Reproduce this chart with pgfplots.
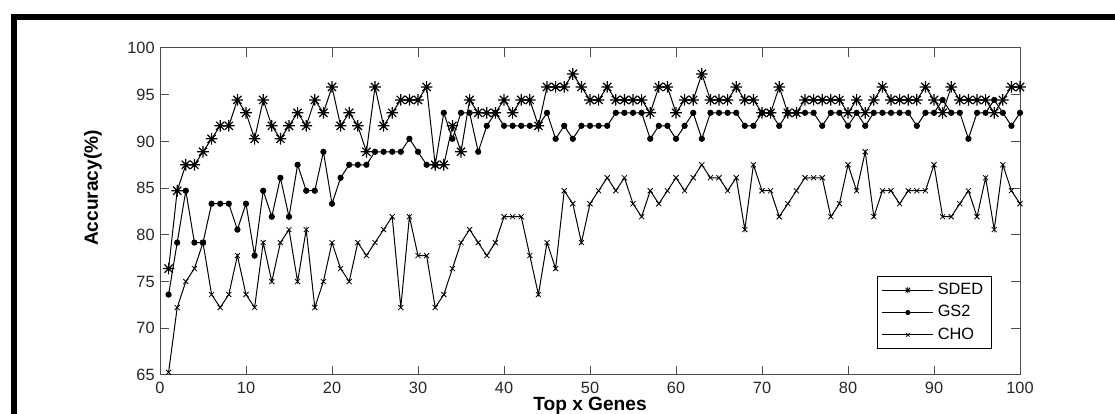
\documentclass[border=0pt]{standalone}
\usepackage{fontspec}
\setmainfont{Liberation Sans}
\usepackage{pgfplots}
\usepackage{pgfplotstable}
\pgfplotsset{compat=1.18}

% MATLAB-like '*' marker (plus and cross)
\pgfdeclareplotmark{mstar}{%
  \pgfpathmoveto{\pgfqpoint{0pt}{\pgfplotmarksize}}\pgfpathlineto{\pgfqpoint{0pt}{-\pgfplotmarksize}}%
  \pgfpathmoveto{\pgfqpoint{\pgfplotmarksize}{0pt}}\pgfpathlineto{\pgfqpoint{-\pgfplotmarksize}{0pt}}%
  \pgfpathmoveto{\pgfqpoint{0.707\pgfplotmarksize}{0.707\pgfplotmarksize}}\pgfpathlineto{\pgfqpoint{-0.707\pgfplotmarksize}{-0.707\pgfplotmarksize}}%
  \pgfpathmoveto{\pgfqpoint{0.707\pgfplotmarksize}{-0.707\pgfplotmarksize}}\pgfpathlineto{\pgfqpoint{-0.707\pgfplotmarksize}{0.707\pgfplotmarksize}}%
  \pgfusepathqstroke}

\pgfplotstableread{
x   sded  gs2   cho
1   76.39 73.61 65.28
2   84.72 79.17 72.22
3   87.50 84.72 75.00
4   87.50 79.17 76.39
5   88.89 79.17 79.17
6   90.28 83.33 73.61
7   91.67 83.33 72.22
8   91.67 83.33 73.61
9   94.44 80.56 77.78
10  93.06 83.33 73.61
11  90.28 77.78 72.22
12  94.44 84.72 79.17
13  91.67 81.94 75.00
14  90.28 86.11 79.17
15  91.67 81.94 80.56
16  93.06 87.50 75.00
17  91.67 84.72 80.56
18  94.44 84.72 72.22
19  93.06 88.89 75.00
20  95.83 83.33 79.17
21  91.67 86.11 76.39
22  93.06 87.50 75.00
23  91.67 87.50 79.17
24  88.89 87.50 77.78
25  95.83 88.89 79.17
26  91.67 88.89 80.56
27  93.06 88.89 81.94
28  94.44 88.89 72.22
29  94.44 90.28 81.94
30  94.44 88.89 77.78
31  95.83 87.50 77.78
32  87.50 87.50 72.22
33  87.50 93.06 73.61
34  91.67 90.28 76.39
35  88.89 93.06 79.17
36  94.44 93.06 80.56
37  93.06 88.89 79.17
38  93.06 91.67 77.78
39  93.06 93.06 79.17
40  94.44 91.67 81.94
41  93.06 91.67 81.94
42  94.44 91.67 81.94
43  94.44 91.67 77.78
44  91.67 91.67 73.61
45  95.83 93.06 79.17
46  95.83 90.28 76.39
47  95.83 91.67 84.72
48  97.22 90.28 83.33
49  95.83 91.67 79.17
50  94.44 91.67 83.33
51  94.44 91.67 84.72
52  95.83 91.67 86.11
53  94.44 93.06 84.72
54  94.44 93.06 86.11
55  94.44 93.06 83.33
56  94.44 93.06 81.94
57  93.06 90.28 84.72
58  95.83 91.67 83.33
59  95.83 91.67 84.72
60  93.06 90.28 86.11
61  94.44 91.67 84.72
62  94.44 93.06 86.11
63  97.22 90.28 87.50
64  94.44 93.06 86.11
65  94.44 93.06 86.11
66  94.44 93.06 84.72
67  95.83 93.06 86.11
68  94.44 91.67 80.56
69  94.44 91.67 87.50
70  93.06 93.06 84.72
71  93.06 93.06 84.72
72  95.83 91.67 81.94
73  93.06 93.06 83.33
74  93.06 93.06 84.72
75  94.44 93.06 86.11
76  94.44 93.06 86.11
77  94.44 91.67 86.11
78  94.44 93.06 81.94
79  94.44 93.06 83.33
80  93.06 91.67 87.50
81  94.44 93.06 84.72
82  93.06 91.67 88.89
83  94.44 93.06 81.94
84  95.83 93.06 84.72
85  94.44 93.06 84.72
86  94.44 93.06 83.33
87  94.44 93.06 84.72
88  94.44 91.67 84.72
89  95.83 93.06 84.72
90  94.44 93.06 87.50
91  93.06 94.44 81.94
92  95.83 93.06 81.94
93  94.44 93.06 83.33
94  94.44 90.28 84.72
95  94.44 93.06 81.94
96  94.44 93.06 86.11
97  93.06 94.44 80.56
98  94.44 93.06 87.50
99  95.83 91.67 84.72
100 95.83 93.06 83.33
}\accdata

\begin{document}
\begin{tikzpicture}[x=0.5bp,y=0.5bp]
\useasboundingbox (0,0) rectangle (1115,414);
% thick frame of the screenshot (top and left)
\fill[black] (11,394) rectangle (1115,400);
\fill[black] (11,0) rectangle (17,400);
\begin{axis}[
    at={(80bp,19.5bp)}, anchor=south west,
    scale only axis, width=430bp, height=163.5bp,
    xmin=0, xmax=100, ymin=65, ymax=100,
    xtick={0,10,...,100}, ytick={65,70,...,100},
    axis line style={black!70, line width=0.5bp},
    every tick/.style={black!70, line width=0.5bp},
    major tick length=4.5bp, tick align=inside,
    /pgf/number format/assume math mode=true,
    ticklabel style={font=\fontsize{8.2}{9.5}\selectfont, text=black!85},
    xticklabel style={inner sep=0pt, anchor=north, yshift=-3.5bp},
    yticklabel style={inner sep=0pt, anchor=east, xshift=-2.5bp},
    xlabel={Top x Genes}, ylabel={Accuracy(\%)},
    label style={font=\bfseries\fontsize{9.6}{11}\selectfont},
    xlabel style={at={(axis description cs:0.5,-0.094)}, anchor=center},
    ylabel style={at={(axis description cs:-0.078,0.572)}, anchor=center},
    legend style={at={(0.967,0.0795)}, anchor=south east, draw=black, line width=0.5bp,
      font=\fontsize{8.2}{9.5}\selectfont, inner xsep=2bp, inner ysep=1.2bp, row sep=0bp,
      cells={anchor=west}},
    legend image code/.code={\draw[line width=0.5bp,mark repeat=2,mark phase=2,#1] plot coordinates {(0bp,0bp) (12.75bp,0bp) (25.5bp,0bp)};},
  ]
  \addplot[black, line width=0.5bp, mark=mstar, mark size=2.9bp, mark options={line width=0.6bp},
    legend image post style={mark size=1.6bp, mark options={line width=0.4bp}}] table[x=x, y=sded] {\accdata};
  \addlegendentry{SDED}
  \addplot[black, line width=0.5bp, mark=*, mark size=1.3bp,
    legend image post style={mark size=1bp}] table[x=x, y=gs2] {\accdata};
  \addlegendentry{GS2}
  \addplot[black, line width=0.5bp, mark=x, mark size=1.8bp, mark options={line width=0.4bp},
    legend image post style={mark size=1.2bp}] table[x=x, y=cho] {\accdata};
  \addlegendentry{CHO}
\end{axis}
\end{tikzpicture}
\end{document}
